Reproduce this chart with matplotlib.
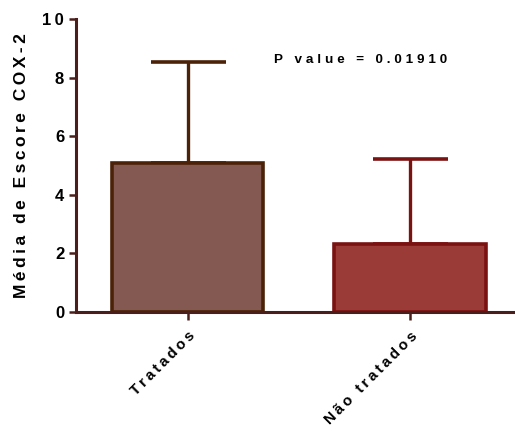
import matplotlib.pyplot as plt
import numpy as np

plt.rcParams['font.family'] = ['Liberation Sans', 'DejaVu Sans']

groups = ['Tratados', 'Não tratados']
means = [5.1, 2.32]
sd = [3.42, 2.9]
fill_colors = ['#845952', '#9A3B38']
edge_colors = ['#4B2208', '#7A1212']
axis_color = '#4A1E1A'


def spaced(s, gap='\u2009'):
    # GraphPad-style letter spacing
    return gap.join(s)


fig = plt.figure(figsize=(5.15, 4.32), dpi=100)
ax = fig.add_axes([0.1476, 0.2778, 0.86, 0.678])

x = np.arange(len(groups))
for i in range(len(groups)):
    ax.errorbar(x[i], means[i], yerr=[[0], [sd[i]]], fmt='none',
                ecolor=edge_colors[i], elinewidth=2.4, capsize=27,
                capthick=2.6, zorder=1)
    ax.bar(x[i], means[i], width=0.68, color=fill_colors[i],
           edgecolor=edge_colors[i], linewidth=2.6, zorder=2)

ax.set_xlim(-0.502, 1.49)
ax.set_ylim(0, 10)
ax.set_yticks([0, 2, 4, 6, 8, 10])
ax.set_yticklabels([spaced(str(v)) for v in [0, 2, 4, 6, 8, 10]],
                   fontsize=12, fontweight='bold')
ax.set_xticks(x)
ax.set_xticklabels([spaced(g) for g in groups], rotation=45, ha='right',
                   rotation_mode='anchor', fontsize=10.8, fontweight='bold')

for side in ['top', 'right']:
    ax.spines[side].set_visible(False)
for side in ['left', 'bottom']:
    ax.spines[side].set_color(axis_color)
    ax.spines[side].set_linewidth(2.2)
ax.tick_params(axis='both', colors=axis_color, width=1.8, length=5, labelcolor='black')
ax.tick_params(axis='x', length=6, pad=6)

ax.set_ylabel(spaced('Média de Escore COX-2'), fontsize=12.5, fontweight='bold',
              labelpad=10)

ax.text(0.78, 8.6, spaced('P value = 0.01910', '\u2009\u200a'), fontsize=9.7,
        fontweight='bold', va='center', ha='center')

fig.savefig('out.png', dpi=100)
